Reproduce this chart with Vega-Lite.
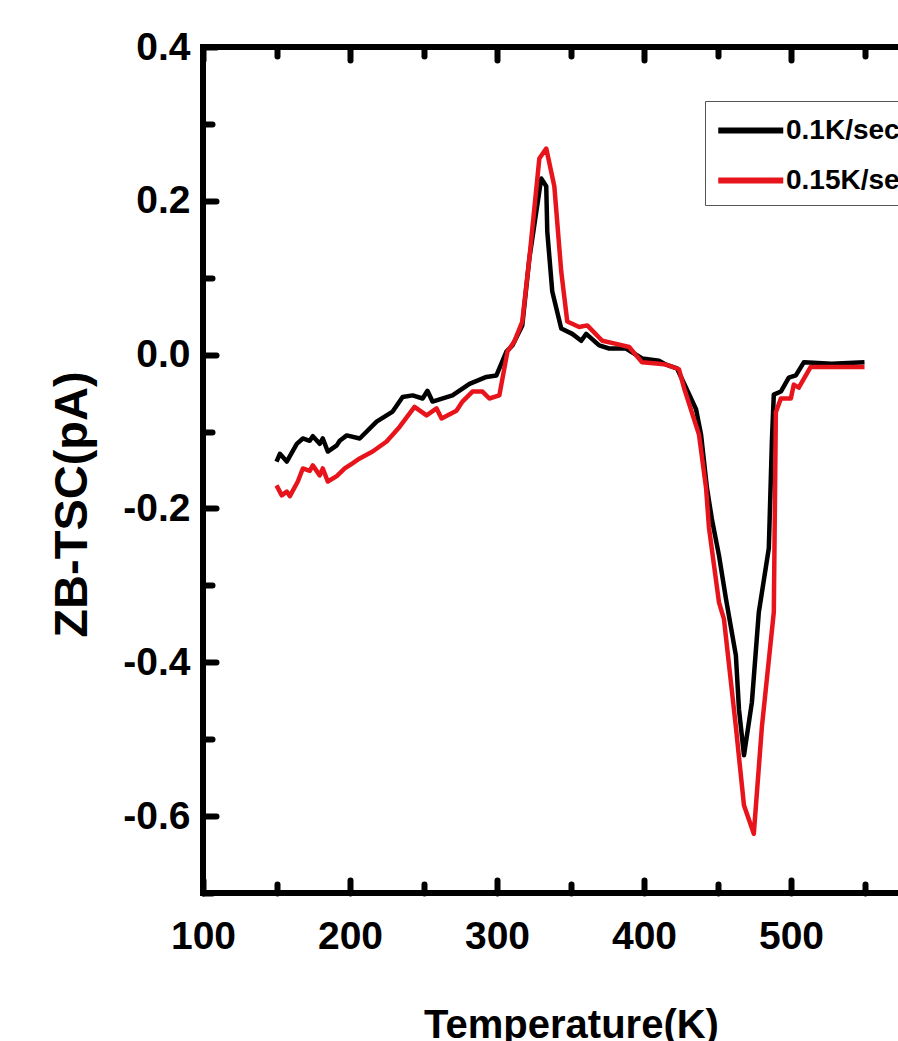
{
  "$schema": "https://vega.github.io/schema/vega-lite/v6.json",
  "width": 735,
  "height": 846,
  "autosize": {"type": "none"},
  "padding": {"left": 203, "top": 47, "right": -40, "bottom": 148},
  "background": "#ffffff",
  "config": {
    "view": {"stroke": "#000000", "strokeWidth": 6},
    "axis": {"grid": false, "domain": false, "tickColor": "#000000", "tickWidth": 6, "tickCap": "round", "labelColor": "#000000", "titleColor": "#000000", "zindex": 1}
  },
  "data": {
    "values": [
      {"T":150.0,"I":-0.139,"s":"0.1K/sec"},{"T":152.3,"I":-0.129,"s":"0.1K/sec"},{"T":157.0,"I":-0.139,"s":"0.1K/sec"},{"T":163.8,"I":-0.116,"s":"0.1K/sec"},{"T":167.9,"I":-0.109,"s":"0.1K/sec"},{"T":172.6,"I":-0.112,"s":"0.1K/sec"},{"T":174.7,"I":-0.106,"s":"0.1K/sec"},{"T":179.4,"I":-0.116,"s":"0.1K/sec"},{"T":181.5,"I":-0.109,"s":"0.1K/sec"},{"T":184.9,"I":-0.126,"s":"0.1K/sec"},{"T":191.0,"I":-0.118,"s":"0.1K/sec"},{"T":193.0,"I":-0.112,"s":"0.1K/sec"},{"T":197.8,"I":-0.105,"s":"0.1K/sec"},{"T":206.6,"I":-0.109,"s":"0.1K/sec"},{"T":218.1,"I":-0.087,"s":"0.1K/sec"},{"T":229.0,"I":-0.074,"s":"0.1K/sec"},{"T":235.8,"I":-0.055,"s":"0.1K/sec"},{"T":242.6,"I":-0.053,"s":"0.1K/sec"},{"T":249.4,"I":-0.057,"s":"0.1K/sec"},{"T":252.7,"I":-0.047,"s":"0.1K/sec"},{"T":256.1,"I":-0.061,"s":"0.1K/sec"},{"T":269.7,"I":-0.053,"s":"0.1K/sec"},{"T":281.3,"I":-0.038,"s":"0.1K/sec"},{"T":292.8,"I":-0.029,"s":"0.1K/sec"},{"T":299.6,"I":-0.027,"s":"0.1K/sec"},{"T":306.4,"I":0.004,"s":"0.1K/sec"},{"T":310.5,"I":0.012,"s":"0.1K/sec"},{"T":317.2,"I":0.038,"s":"0.1K/sec"},{"T":322.0,"I":0.125,"s":"0.1K/sec"},{"T":330.1,"I":0.229,"s":"0.1K/sec"},{"T":333.5,"I":0.219,"s":"0.1K/sec"},{"T":334.2,"I":0.160,"s":"0.1K/sec"},{"T":337.6,"I":0.082,"s":"0.1K/sec"},{"T":343.7,"I":0.034,"s":"0.1K/sec"},{"T":351.2,"I":0.027,"s":"0.1K/sec"},{"T":357.3,"I":0.018,"s":"0.1K/sec"},{"T":360.7,"I":0.027,"s":"0.1K/sec"},{"T":369.5,"I":0.012,"s":"0.1K/sec"},{"T":376.3,"I":0.008,"s":"0.1K/sec"},{"T":387.8,"I":0.008,"s":"0.1K/sec"},{"T":398.7,"I":-0.005,"s":"0.1K/sec"},{"T":410.2,"I":-0.008,"s":"0.1K/sec"},{"T":415.0,"I":-0.013,"s":"0.1K/sec"},{"T":422.5,"I":-0.018,"s":"0.1K/sec"},{"T":428.6,"I":-0.043,"s":"0.1K/sec"},{"T":435.4,"I":-0.071,"s":"0.1K/sec"},{"T":438.8,"I":-0.104,"s":"0.1K/sec"},{"T":442.8,"I":-0.173,"s":"0.1K/sec"},{"T":446.2,"I":-0.214,"s":"0.1K/sec"},{"T":451.0,"I":-0.261,"s":"0.1K/sec"},{"T":455.7,"I":-0.317,"s":"0.1K/sec"},{"T":462.5,"I":-0.391,"s":"0.1K/sec"},{"T":464.6,"I":-0.461,"s":"0.1K/sec"},{"T":468.0,"I":-0.521,"s":"0.1K/sec"},{"T":473.4,"I":-0.452,"s":"0.1K/sec"},{"T":478.1,"I":-0.335,"s":"0.1K/sec"},{"T":484.9,"I":-0.252,"s":"0.1K/sec"},{"T":487.0,"I":-0.113,"s":"0.1K/sec"},{"T":488.3,"I":-0.052,"s":"0.1K/sec"},{"T":493.1,"I":-0.048,"s":"0.1K/sec"},{"T":498.5,"I":-0.030,"s":"0.1K/sec"},{"T":503.3,"I":-0.027,"s":"0.1K/sec"},{"T":508.7,"I":-0.010,"s":"0.1K/sec"},{"T":527.7,"I":-0.012,"s":"0.1K/sec"},{"T":550.0,"I":-0.010,"s":"0.1K/sec"},
      {"T":150.0,"I":-0.170,"s":"0.15K/sec"},{"T":153.6,"I":-0.183,"s":"0.15K/sec"},{"T":157.0,"I":-0.178,"s":"0.15K/sec"},{"T":159.1,"I":-0.184,"s":"0.15K/sec"},{"T":164.5,"I":-0.165,"s":"0.15K/sec"},{"T":167.9,"I":-0.148,"s":"0.15K/sec"},{"T":172.6,"I":-0.151,"s":"0.15K/sec"},{"T":174.7,"I":-0.144,"s":"0.15K/sec"},{"T":179.4,"I":-0.157,"s":"0.15K/sec"},{"T":181.5,"I":-0.148,"s":"0.15K/sec"},{"T":184.9,"I":-0.165,"s":"0.15K/sec"},{"T":191.0,"I":-0.158,"s":"0.15K/sec"},{"T":196.4,"I":-0.148,"s":"0.15K/sec"},{"T":201.2,"I":-0.142,"s":"0.15K/sec"},{"T":206.6,"I":-0.135,"s":"0.15K/sec"},{"T":215.4,"I":-0.126,"s":"0.15K/sec"},{"T":224.9,"I":-0.113,"s":"0.15K/sec"},{"T":233.7,"I":-0.094,"s":"0.15K/sec"},{"T":243.9,"I":-0.068,"s":"0.15K/sec"},{"T":252.1,"I":-0.079,"s":"0.15K/sec"},{"T":258.9,"I":-0.070,"s":"0.15K/sec"},{"T":262.3,"I":-0.083,"s":"0.15K/sec"},{"T":272.4,"I":-0.073,"s":"0.15K/sec"},{"T":276.5,"I":-0.061,"s":"0.15K/sec"},{"T":283.3,"I":-0.048,"s":"0.15K/sec"},{"T":290.1,"I":-0.048,"s":"0.15K/sec"},{"T":294.8,"I":-0.057,"s":"0.15K/sec"},{"T":301.6,"I":-0.053,"s":"0.15K/sec"},{"T":307.1,"I":0.004,"s":"0.15K/sec"},{"T":311.8,"I":0.017,"s":"0.15K/sec"},{"T":317.2,"I":0.043,"s":"0.15K/sec"},{"T":322.0,"I":0.125,"s":"0.15K/sec"},{"T":328.8,"I":0.255,"s":"0.15K/sec"},{"T":333.5,"I":0.268,"s":"0.15K/sec"},{"T":339.0,"I":0.219,"s":"0.15K/sec"},{"T":343.7,"I":0.108,"s":"0.15K/sec"},{"T":347.8,"I":0.043,"s":"0.15K/sec"},{"T":355.9,"I":0.036,"s":"0.15K/sec"},{"T":361.4,"I":0.038,"s":"0.15K/sec"},{"T":371.6,"I":0.018,"s":"0.15K/sec"},{"T":381.1,"I":0.014,"s":"0.15K/sec"},{"T":389.9,"I":0.010,"s":"0.15K/sec"},{"T":398.7,"I":-0.010,"s":"0.15K/sec"},{"T":410.2,"I":-0.012,"s":"0.15K/sec"},{"T":415.0,"I":-0.013,"s":"0.15K/sec"},{"T":423.8,"I":-0.019,"s":"0.15K/sec"},{"T":427.2,"I":-0.043,"s":"0.15K/sec"},{"T":437.4,"I":-0.104,"s":"0.15K/sec"},{"T":442.2,"I":-0.173,"s":"0.15K/sec"},{"T":444.2,"I":-0.225,"s":"0.15K/sec"},{"T":451.0,"I":-0.322,"s":"0.15K/sec"},{"T":454.4,"I":-0.344,"s":"0.15K/sec"},{"T":462.5,"I":-0.484,"s":"0.15K/sec"},{"T":468.0,"I":-0.586,"s":"0.15K/sec"},{"T":474.7,"I":-0.623,"s":"0.15K/sec"},{"T":480.2,"I":-0.484,"s":"0.15K/sec"},{"T":488.3,"I":-0.335,"s":"0.15K/sec"},{"T":489.7,"I":-0.075,"s":"0.15K/sec"},{"T":493.1,"I":-0.057,"s":"0.15K/sec"},{"T":499.9,"I":-0.057,"s":"0.15K/sec"},{"T":501.9,"I":-0.039,"s":"0.15K/sec"},{"T":505.3,"I":-0.043,"s":"0.15K/sec"},{"T":513.4,"I":-0.016,"s":"0.15K/sec"},{"T":527.7,"I":-0.016,"s":"0.15K/sec"},{"T":550.0,"I":-0.016,"s":"0.15K/sec"}
    ]
  },
  "layer": [
    {
      "mark": {"type": "line", "strokeWidth": 4.5, "strokeJoin": "round"},
      "encoding": {
        "x": {
          "field": "T", "type": "quantitative",
          "scale": {"domain": [100, 600], "nice": false, "zero": false},
          "axis": {
            "orient": "bottom",
            "values": [100,150,200,250,300,350,400,450,500,550,600],
            "tickSize": {"condition": {"test": "datum.value % 100 === 0", "value": -13}, "value": -9},
            "labelExpr": "datum.value % 100 === 0 ? datum.label : ''",
            "labelFont": "Liberation Sans",
            "labelFontWeight": "bold",
            "labelFontSize": 39,
            "labelBaseline": "alphabetic",
            "labelPadding": 68,
            "labelFlush": false,
            "labelOverlap": false,
            "title": "Temperature(K)",
            "titleFont": "Liberation Sans",
            "titleFontSize": 40,
            "titleFontWeight": "bold",
            "titleBaseline": "alphabetic",
            "titleAlign": "center",
            "titleX": 368,
            "titleY": 144
          }
        },
        "y": {
          "field": "I", "type": "quantitative",
          "scale": {"domain": [-0.7, 0.4], "nice": false, "zero": false},
          "axis": {
            "orient": "left",
            "values": [0.4,0.3,0.2,0.1,0,-0.1,-0.2,-0.3,-0.4,-0.5,-0.6,-0.7],
            "tickSize": {"condition": {"test": "abs(round(datum.value*10)) % 2 === 0", "value": -13}, "value": -9},
            "labelExpr": "abs(round(datum.value*10)) % 2 === 0 ? replace(format(datum.value, '.1f'), '\u2212', '-') : ''",
            "labelFont": "Liberation Sans",
            "labelFontWeight": "bold",
            "labelFontSize": 39,
            "labelBaseline": "middle",
            "labelPadding": 26,
            "labelFlush": false,
            "labelOverlap": false,
            "title": "ZB-TSC(pA)",
            "titleFont": "Liberation Sans",
            "titleFontSize": 47,
            "titleFontWeight": "bold",
            "titleAngle": -90,
            "titleBaseline": "alphabetic",
            "titleAlign": "center",
            "titleX": -117,
            "titleY": 457
          }
        },
        "color": {
          "field": "s", "type": "nominal",
          "scale": {"domain": ["0.1K/sec", "0.15K/sec"], "range": ["#000000", "#e8141b"]},
          "legend": {
            "orient": "none",
            "legendX": 502,
            "legendY": 54,
            "title": null,
            "symbolType": "M-1,0H3",
            "symbolSize": 1056,
            "symbolStrokeWidth": 6,
            "labelFont": "Liberation Sans",
            "labelFontWeight": "bold",
            "labelFontSize": 28,
            "labelColor": "#000000",
            "labelOffset": 32,
            "padding": 10,
            "rowPadding": 16,
            "strokeColor": "#555555",
            "fillColor": "#ffffff"
          }
        }
      }
    },
    {
      "mark": {"type": "line", "strokeOpacity": 0},
      "encoding": {
        "x": {
          "field": "T", "type": "quantitative",
          "axis": {
            "orient": "top",
            "values": [100,150,200,250,300,350,400,450,500,550,600],
            "tickSize": {"condition": {"test": "datum.value % 100 === 0", "value": -13}, "value": -9},
            "labels": false,
            "title": null
          }
        },
        "y": {"field": "I", "type": "quantitative"},
        "detail": {"field": "s", "type": "nominal"}
      }
    }
  ]
}
